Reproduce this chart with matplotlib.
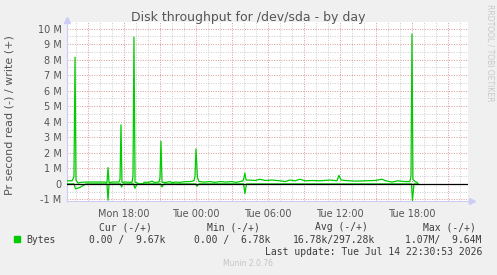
import numpy as np
import matplotlib
matplotlib.use("Agg")
import matplotlib.pyplot as plt

# hours since Mon 00:00, values in M bytes/s
write_t = [13.25, 13.67, 13.83, 13.92, 14.0, 14.17, 14.42, 14.83, 15.58, 16.42,
           16.58, 16.67, 16.75, 17.0, 17.58, 17.67, 17.75, 17.83, 18.08, 18.67,
           18.75, 18.83, 18.92, 19.17, 19.25, 19.58, 19.67, 20.17, 20.33, 20.5,
           20.92, 21.0, 21.08, 21.17, 21.5, 21.83, 22.0, 22.33, 22.67, 23.0,
           23.5, 23.83, 23.92, 24.0, 24.125, 24.25, 24.75, 25.17, 25.58, 26.0,
           26.5, 27.0, 27.33, 27.67, 27.92, 28.0, 28.08, 28.17, 28.33, 28.92,
           29.33, 29.75, 30.33, 31.0, 31.42, 31.83, 32.25, 32.67, 33.08, 33.67,
           34.33, 35.17, 35.75, 35.92, 36.08, 36.42, 37.25, 38.08, 38.92, 39.5,
           39.83, 40.33, 40.83, 41.42, 41.83, 41.92, 42.0, 42.08, 42.25, 42.42,
           42.5]
write_v = [0.20, 0.20, 0.45, 8.15, 0.25, 0.05, 0.10, 0.12, 0.12, 0.12,
           0.08, 1.05, 0.08, 0.12, 0.12, 0.30, 3.80, 0.10, 0.12, 0.10,
           0.50, 9.45, 0.10, 0.05, 0.00, 0.00, 0.10, 0.12, 0.18, 0.10,
           0.12, 0.40, 2.75, 0.10, 0.10, 0.15, 0.08, 0.12, 0.10, 0.14,
           0.15, 0.20, 0.50, 2.25, 0.40, 0.15, 0.12, 0.15, 0.10, 0.15,
           0.12, 0.15, 0.10, 0.15, 0.20, 0.40, 0.70, 0.25, 0.25, 0.22,
           0.30, 0.22, 0.25, 0.20, 0.15, 0.25, 0.20, 0.30, 0.20, 0.22,
           0.20, 0.25, 0.20, 0.55, 0.25, 0.22, 0.18, 0.20, 0.22, 0.30,
           0.20, 0.12, 0.20, 0.15, 0.15, 0.50, 9.64, 0.30, 0.15, 0.10,
           0.00]

read_t = [13.25, 13.83, 13.96, 14.33, 14.83, 16.58, 16.67, 16.75, 17.71, 17.79,
          17.92, 18.79, 18.92, 19.08, 21.04, 21.17, 21.33, 23.96, 24.08, 24.25,
          27.96, 28.08, 28.21, 41.96, 42.04, 42.17, 42.5]
read_v = [0.0, 0.0, 0.32, 0.22, 0.0, 0.0, 1.05, 0.0, 0.0, 0.20,
          0.0, 0.0, 0.28, 0.0, 0.0, 0.20, 0.0, 0.0, 0.15, 0.0,
          0.0, 0.62, 0.0, 0.0, 1.07, 0.0, 0.0]

xticks = [18, 24, 30, 36, 42]
xlabels = ["Mon 18:00", "Tue 00:00", "Tue 06:00", "Tue 12:00", "Tue 18:00"]
yticks = list(range(-1, 11))
ylabels = ["-1 M", "0"] + [f"{i} M" for i in range(1, 11)]

W, H = 497, 275
fig = plt.figure(figsize=(W / 100, H / 100), dpi=100, facecolor="#f0f0f0")
x0, x1, y0, y1 = 67, 468, 22, 201
ax = fig.add_axes([x0 / W, 1 - y1 / H, (x1 - x0) / W, (y1 - y0) / H])
ax.set_facecolor("white")
ax.set_xlim(13.25, 46.67)
ax.set_ylim(-1.1, 10.42)

# grid: grey every hour / 0.5M, red every 3h / 1M
dot = (0, (1, 1.5))
for h in range(14, 47):
    c = "#dd9999" if h % 3 == 0 else "#cccccc"
    ax.axvline(h, color=c, lw=0.7, ls=dot, zorder=1)
for v in np.arange(-1, 10.01, 0.5):
    c = "#dd9999" if v == int(v) else "#cccccc"
    ax.axhline(v, color=c, lw=0.7, ls=dot, zorder=1)

ax.plot(write_t, write_v, color="#00cc00", lw=0.9, zorder=3)
ax.plot(read_t, [-v for v in read_v], color="#00cc00", lw=0.9, zorder=3)
ax.axhline(0, color="black", lw=0.9, zorder=4)

for s in ["top", "right"]:
    ax.spines[s].set_visible(False)
for s in ["left", "bottom"]:
    ax.spines[s].set_color("#ccccf4")
    ax.spines[s].set_linewidth(0.8)
ax.plot([0], [1.01], marker="^", ms=4, color="#ccccf4", transform=ax.transAxes, clip_on=False)
ax.plot([1.01], [0], marker=">", ms=4, color="#ccccf4", transform=ax.transAxes, clip_on=False)

ax.set_xticks(xticks)
ax.set_xticklabels(xlabels)
ax.set_yticks(yticks)
ax.set_yticklabels(ylabels)
ax.tick_params(length=0, labelsize=7, colors="#555555")
ax.tick_params(axis="x", pad=6)
ax.tick_params(axis="y", pad=4)

fig.text(248 / W, 1 - 18 / H, "Disk throughput for /dev/sda - by day", ha="center",
         va="center", fontsize=9, color="#555555")
fig.text(10 / W, 1 - 115 / H, "Pr second read (-) / write (+)", rotation=90,
         ha="center", va="center", fontsize=8, color="#555555")
fig.text(490 / W, 1 - 53 / H, "RRDTOOL / TOBI OETIKER", rotation=270,
         ha="center", va="center", fontsize=5.5, color="#c8c8c8")

mono = dict(family="DejaVu Sans Mono", fontsize=7, color="#3c3c3c", va="center")
for xs, txt in [(99, "Cur (-/+)"), (206.7, "Min (-/+)"), (315, "Avg (-/+)"), (422.7, "Max (-/+)")]:
    fig.text(xs / W, 1 - 227.5 / H, txt, **mono)
fig.patches.append(plt.Rectangle((14 / W, 1 - 242 / H), 6 / W, 6 / H, color="#00cc00",
                                 transform=fig.transFigure, figure=fig))
for xs, txt in [(26.3, "Bytes"), (89, "0.00 /  9.67k"), (194.3, "0.00 /  6.78k"),
                (293.3, "16.78k/297.28k"), (405, "1.07M/  9.64M")]:
    fig.text(xs / W, 1 - 239.7 / H, txt, **mono)
fig.text(482.5 / W, 1 - 251.7 / H, "Last update: Tue Jul 14 22:30:53 2026", ha="right", **mono)
fig.text(248 / W, 1 - 263.7 / H, "Munin 2.0.76", ha="center", va="center",
         fontsize=5.5, color="#c4c4c4")

fig.savefig("out.png", dpi=100, facecolor=fig.get_facecolor())
